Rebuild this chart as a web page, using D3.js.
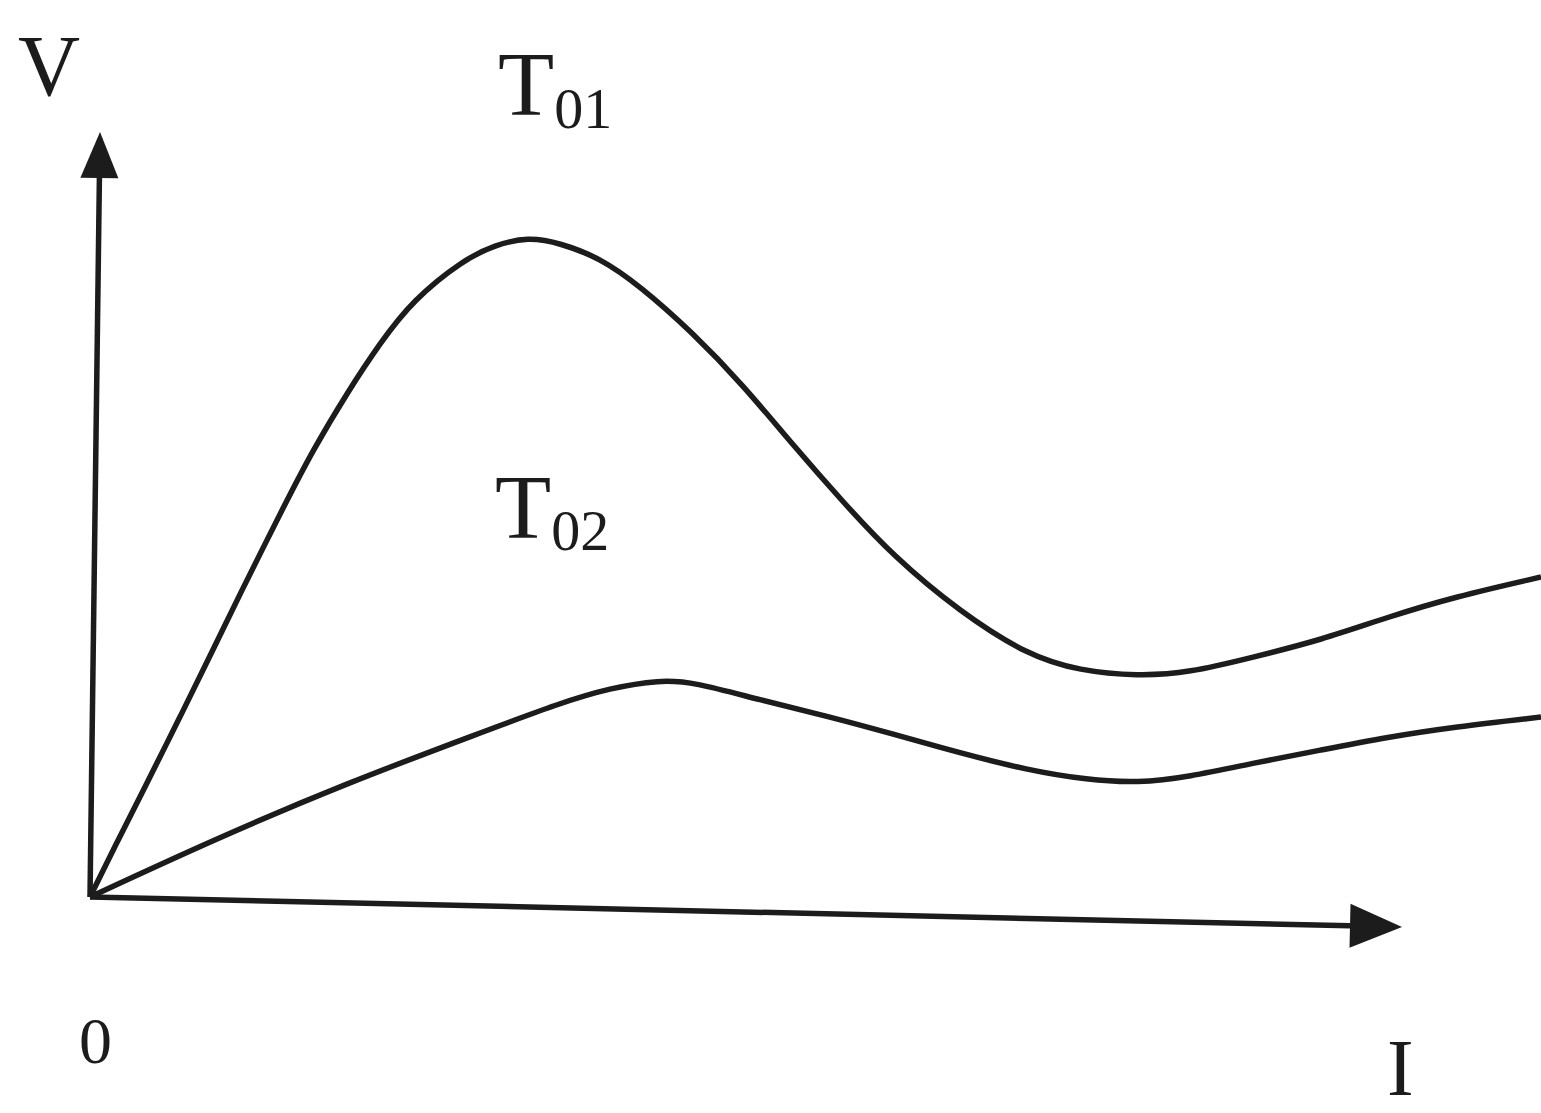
<!DOCTYPE html>
<html>
<head>
<meta charset="utf-8">
<script src="https://cdn.jsdelivr.net/npm/d3@7"></script>
<style>
  body { margin: 0; background: #fff; }
  text { font-family: "Liberation Serif", "DejaVu Serif", serif; fill: #1c1c1c; }
</style>
</head>
<body>
<svg width="1541" height="1113"></svg>
<script>
// curve values (I along x, V up)
var t01I = [0, 2.3, 5.7, 9, 12.3, 14.7, 19.7, 22.3, 25.7, 29, 32.3, 37.3, 40.5, 43.8, 47, 51, 55, 60.3, 65.3, 70.3, 75.3, 80.3, 87, 93.7, 99, 104.8, 109.8, 116.4, 123.1, 129.8, 136.4, 145.1];
var t01V = [0, 4.7, 11.4, 18, 24.7, 29.7, 39.7, 44.7, 50.4, 55.4, 59.7, 63.7, 65.2, 66, 65.4, 63.9, 61.1, 56.4, 51.2, 45.2, 39.5, 34.1, 28.5, 24.2, 22.6, 22.1, 22.4, 24, 25.7, 28, 30, 32];

var t02I = [0, 12.3, 25.7, 39, 47, 52, 57, 60.3, 67, 73.7, 80.3, 87, 93.7, 99.8, 104.8, 109.8, 116.4, 123.1, 129.8, 136.4, 145.1];
var t02V = [0, 5.7, 11.4, 16.4, 19.4, 20.9, 21.7, 21.5, 19.7, 18.1, 16.3, 14.4, 12.7, 11.7, 11.4, 12, 13.4, 14.7, 16, 17, 18];

// hand drawn axes (slightly skewed in the scan)
var vAxis = [[0, 0], [1, 76.5]];
var iAxis = [[0, 0], [131.2, -3.0]];

var svg = d3.select("svg"),
  width = +svg.attr("width"),
  height = +svg.attr("height");

var x = d3.scaleLinear().domain([0, 145.1]).range([90, 1541]);
var y = d3.scaleLinear().domain([0, 80]).range([897, 97]);

var ink = "#1c1c1c";

// basis curve smooths out the reading noise
var line = d3.line()
  .x(function(d) { return x(d[0]); })
  .y(function(d) { return y(d[1]); })
  .curve(d3.curveBasis);

function pts(xs, ys) {
  return xs.map(function(v, i) { return [v, ys[i]]; });
}

// axes with filled arrow heads
function arrow(a, len, half) {
  var x0 = x(a[0][0]), y0 = y(a[0][1]), x1 = x(a[1][0]), y1 = y(a[1][1]);
  var dx = x1 - x0, dy = y1 - y0, L = Math.sqrt(dx * dx + dy * dy);
  var ux = dx / L, uy = dy / L;
  var bx = x1 - ux * len, by = y1 - uy * len;
  svg.append("line")
    .attr("x1", x0).attr("y1", y0).attr("x2", bx).attr("y2", by)
    .attr("stroke", ink).attr("stroke-width", 5.5);
  svg.append("path")
    .attr("d", "M" + x1 + "," + y1 +
      "L" + (bx - uy * half) + "," + (by + ux * half) +
      "L" + (bx + uy * half) + "," + (by - ux * half) + "Z")
    .attr("fill", ink);
}
arrow(vAxis, 46, 19);
arrow(iAxis, 52, 22);

svg.append("path")
  .datum(pts(t01I, t01V))
  .attr("d", line)
  .attr("fill", "none")
  .attr("stroke", ink)
  .attr("stroke-width", 5.5)
  .attr("stroke-linejoin", "round");

svg.append("path")
  .datum(pts(t02I, t02V))
  .attr("d", line)
  .attr("fill", "none")
  .attr("stroke", ink)
  .attr("stroke-width", 5.5)
  .attr("stroke-linejoin", "round");

// labels
svg.append("text").attr("x", 18).attr("y", 95)
  .style("font-size", "86px").text("V");

var t1 = svg.append("text").attr("x", 498).attr("y", 115).style("font-size", "92px");
t1.append("tspan").text("T");
t1.append("tspan").attr("y", 128).style("font-size", "58px").text("01");

var t2 = svg.append("text").attr("x", 495).attr("y", 538).style("font-size", "92px");
t2.append("tspan").text("T");
t2.append("tspan").attr("y", 550).style("font-size", "58px").text("02");

svg.append("text").attr("x", 79).attr("y", 1063)
  .style("font-size", "66px").text("0");

svg.append("text").attr("x", 1387).attr("y", 1095)
  .style("font-size", "80px").text("I");
</script>
</body>
</html>
